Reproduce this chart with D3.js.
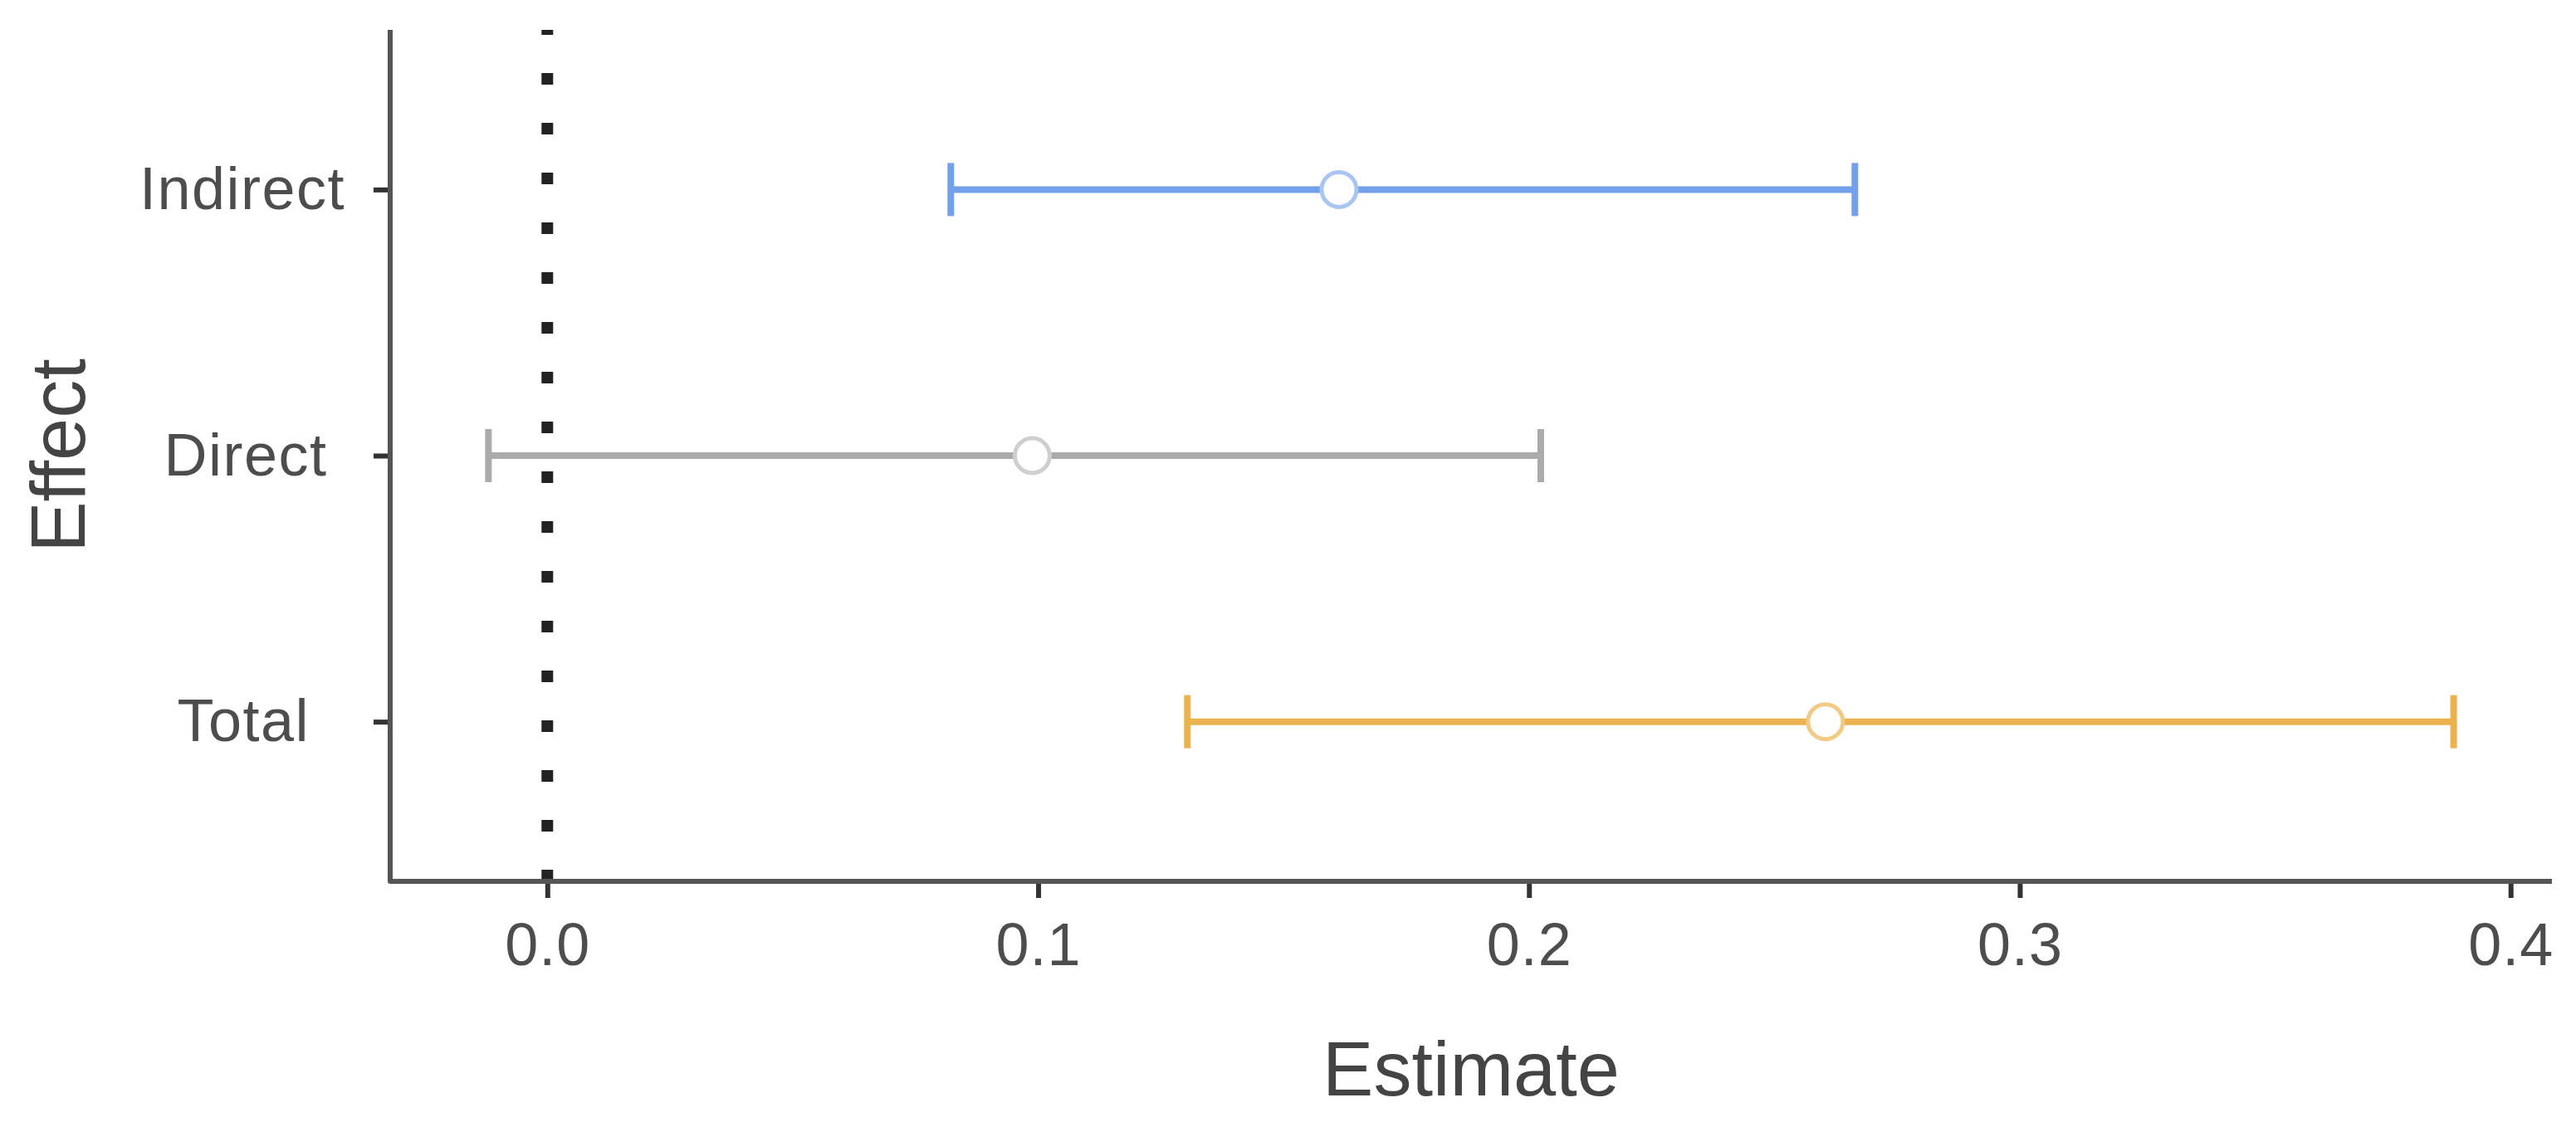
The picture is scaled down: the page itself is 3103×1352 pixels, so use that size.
<!DOCTYPE html>
<html>
<head>
<meta charset="utf-8">
<script src="https://cdn.jsdelivr.net/npm/d3@7"></script>
<style>
  html, body { margin: 0; padding: 0; background: #fff; }
  svg text { font-family: "Liberation Sans", Arial, sans-serif; }
</style>
</head>
<body>
<svg id="chart" width="3103" height="1352"></svg>
<script>
// ---- data ----
const categories = ["Indirect", "Direct", "Total"];
const tickLabels = ["Indirect", "Direct ", "Total  "];
const estimates = [0.1613, 0.0988, 0.2604];
const lowers = [0.0822, -0.0120, 0.1304];
const uppers = [0.2664, 0.2024, 0.3884];
const xTicks = [0.0, 0.1, 0.2, 0.3, 0.4];
const lineColors = ["#72A0EA", "#ABABAB", "#EBB24D"];
const pointColors = ["#A9C6F3", "#CFCFCF", "#F1CB85"];

(function () {
const rows = categories.map((c, i) => ({
  cat: c, est: estimates[i], lo: lowers[i], hi: uppers[i],
  line: lineColors[i], pt: pointColors[i]
}));

const svg = d3.select("#chart");
const pLeft = 470, pRight = 3074, pTop = 36, pBottom = 1062;

const dataMin = d3.min(lowers), dataMax = d3.max(uppers);
const pad = (dataMax - dataMin) * 0.05;
const x = d3.scaleLinear().domain([dataMin - pad, dataMax + pad]).range([pLeft, pRight]);
const y = d3.scalePoint().domain(categories).range([pTop, pBottom]).padding(0.6);

// zero reference line (dotted), drawn from bottom to top
svg.append("line")
  .attr("x1", x(0)).attr("x2", x(0))
  .attr("y1", pBottom).attr("y2", pTop)
  .attr("stroke", "#222").attr("stroke-width", 14)
  .attr("stroke-dasharray", "14 46");

// error bars
const g = svg.append("g");
const capH = 32;
rows.forEach(r => {
  const yy = y(r.cat);
  g.append("line").attr("x1", x(r.lo)).attr("x2", x(r.hi))
    .attr("y1", yy).attr("y2", yy)
    .attr("stroke", r.line).attr("stroke-width", 8);
  [r.lo, r.hi].forEach(v => {
    g.append("line").attr("x1", x(v)).attr("x2", x(v))
      .attr("y1", yy - capH).attr("y2", yy + capH)
      .attr("stroke", r.line).attr("stroke-width", 8);
  });
  g.append("circle").attr("cx", x(r.est)).attr("cy", yy).attr("r", 21)
    .attr("fill", "#fff").attr("stroke", r.pt).attr("stroke-width", 5);
});

// axes
const axisColor = "#555";
const xAxis = d3.axisBottom(x).tickValues(xTicks).tickFormat(d3.format(".1f"))
  .tickSize(20).tickPadding(30);
const xg = svg.append("g").attr("transform", `translate(0,${pBottom})`).call(xAxis);
xg.select(".domain").remove();
xg.selectAll(".tick line").attr("stroke", "#333").attr("stroke-width", 6);
xg.selectAll(".tick text").attr("font-size", 72).attr("fill", "#4d4d4d")
  .attr("font-family", "Liberation Sans, Arial, sans-serif")
  .attr("letter-spacing", 1);

const yAxis = d3.axisLeft(y).tickSize(20).tickPadding(34)
  .tickFormat((d, i) => tickLabels[i]);
const yg = svg.append("g").attr("transform", `translate(${pLeft},0)`).call(yAxis);
yg.select(".domain").remove();
yg.selectAll(".tick line").attr("stroke", "#333").attr("stroke-width", 6);
yg.selectAll(".tick text").attr("font-size", 72).attr("fill", "#4d4d4d")
  .attr("font-family", "Liberation Sans, Arial, sans-serif")
  .attr("letter-spacing", 1.5)
  .style("white-space", "pre");

// axis lines
svg.append("path")
  .attr("d", `M${pLeft},${pTop} L${pLeft},${pBottom} L${pRight},${pBottom}`)
  .attr("fill", "none").attr("stroke", axisColor).attr("stroke-width", 6)
  .attr("stroke-linejoin", "round");

// axis titles
svg.append("text").text("Estimate")
  .attr("x", (pLeft + pRight) / 2).attr("y", 1320)
  .attr("text-anchor", "middle").attr("font-size", 92).attr("fill", "#444");
svg.append("text").text("Effect")
  .attr("transform", `translate(102,${(pTop + pBottom) / 2}) rotate(-90)`)
  .attr("text-anchor", "middle").attr("font-size", 92).attr("fill", "#444");
})();
</script>
</body>
</html>
